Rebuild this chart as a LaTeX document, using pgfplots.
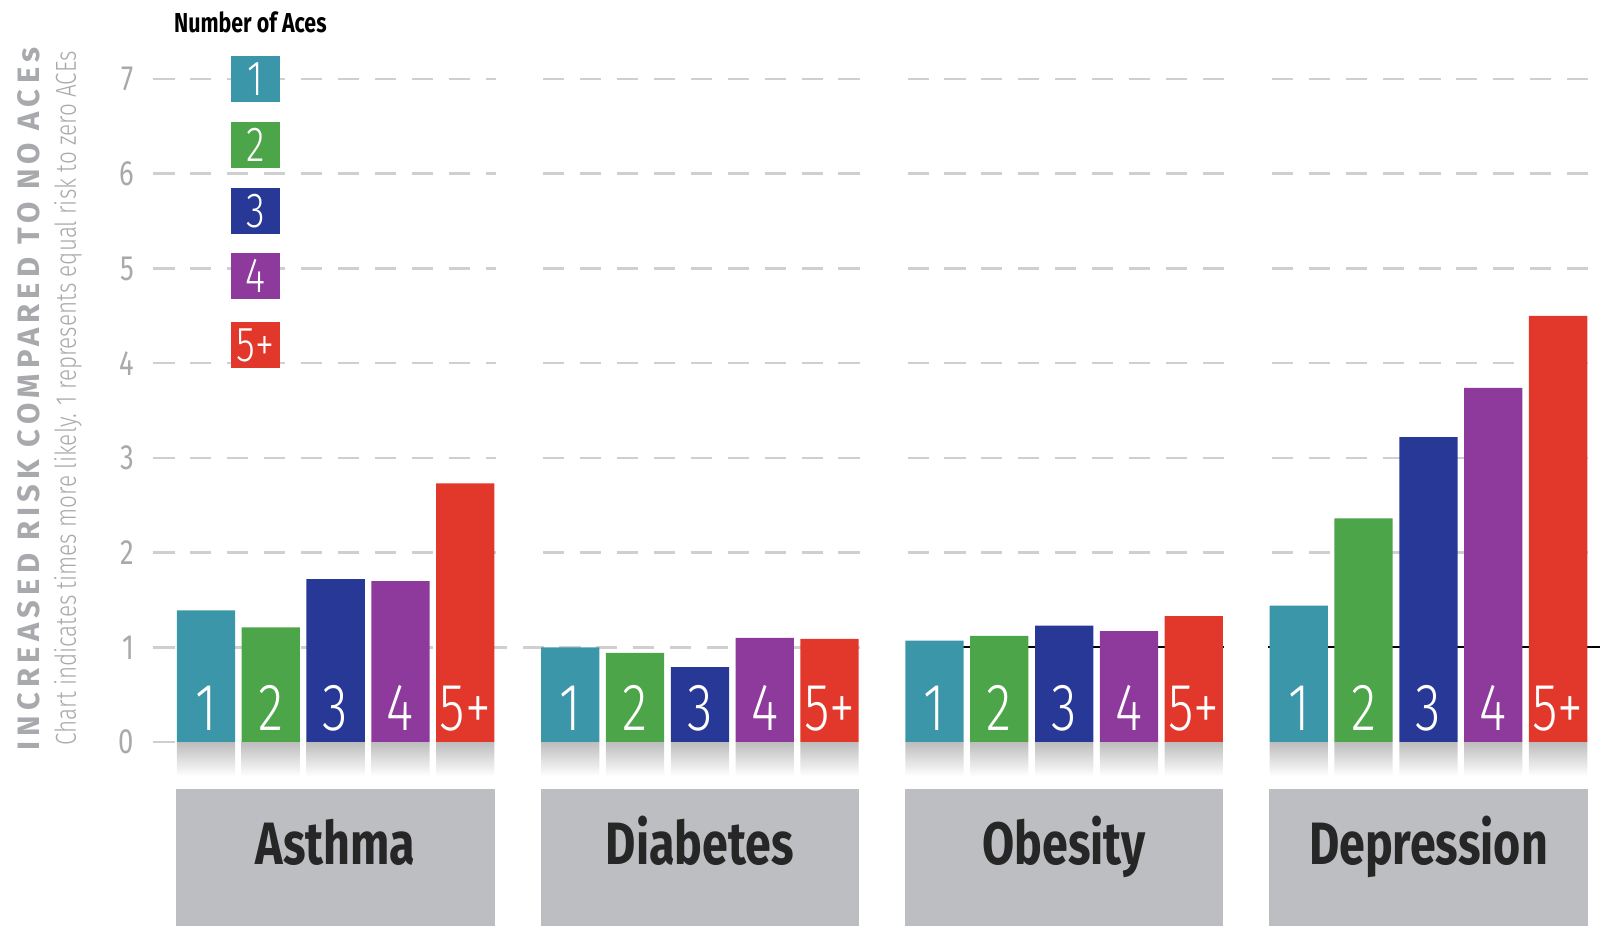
\documentclass[border=0pt]{standalone}
\usepackage{pgfplots}
\usepackage{pgfplotstable}
\pgfplotsset{compat=1.18}
\usepackage{fontspec}
\setmainfont{Fira Sans}
\newfontfamily\cond{Fira Sans}[FakeStretch=0.78]
\newfontfamily\condlt{Fira Sans Light}[FakeStretch=0.78]

\definecolor{aceA}{HTML}{3C96AA}
\definecolor{aceB}{HTML}{4CA548}
\definecolor{aceC}{HTML}{283896}
\definecolor{aceD}{HTML}{8E3A9D}
\definecolor{aceE}{HTML}{E2382C}
\definecolor{boxgray}{HTML}{BDBEC1}
\definecolor{gridgray}{HTML}{CFCFCF}
\definecolor{labgray}{HTML}{A8A9AC}

% groups: 0 Asthma, 1 Diabetes, 2 Obesity, 3 Depression
\pgfplotstableread{
g  one  two  three four five
0  1.39 1.21 1.72  1.70 2.73
1  1.00 0.94 0.79  1.10 1.09
2  1.07 1.12 1.23  1.17 1.33
3  1.44 2.36 3.22  3.74 4.50
}\acedata

\tikzset{grd/.style={gridgray, line width=0.75pt, dash pattern=on 6pt off 4.5pt}}

\begin{document}
\begin{tikzpicture}
\begin{axis}[
  width=14.425cm, height=9.26cm, scale only axis,
  xmin=-0.5, xmax=3.46,
  ymin=-1.943, ymax=7.835,
  clip=false,
  axis line style={draw=none},
  xtick=\empty,
  ytick={0,...,7},
  major tick length=0pt,
  /pgf/number format/assume math mode=true,
  yticklabel style={font=\cond\fontsize{10}{12}\selectfont, text=labgray, xshift=-2pt},
  bar width=0.16,
]
% dashed grid, one run per group
\pgfplotsinvokeforeach{2,...,7}{
  \draw[grd] (axis cs:-0.5,#1) -- (axis cs:0.44,#1);
  \draw[grd] (axis cs:0.57,#1) -- (axis cs:1.44,#1);
  \draw[grd] (axis cs:1.57,#1) -- (axis cs:2.44,#1);
  \draw[grd] (axis cs:2.57,#1) -- (axis cs:3.44,#1);
}
\draw[grd] (axis cs:-0.5,0) -- (axis cs:-0.44,0);
\draw[grd] (axis cs:-0.5,1) -- (axis cs:1.44,1);
\draw[black, line width=0.6pt] (axis cs:1.57,1) -- (axis cs:2.44,1);
\draw[black, line width=0.6pt] (axis cs:2.56,1) -- (axis cs:3.47,1);

% soft reflections under the bars
\pgfplotsset{refl/.style={ybar, bar shift=#1, draw=none, top color=black!26, bottom color=white}}
\addplot[refl=-0.356] table[x=g, y expr=-0.36] {\acedata};
\addplot[refl=-0.178] table[x=g, y expr=-0.36] {\acedata};
\addplot[refl=0]      table[x=g, y expr=-0.36] {\acedata};
\addplot[refl=0.178]  table[x=g, y expr=-0.36] {\acedata};
\addplot[refl=0.356]  table[x=g, y expr=-0.36] {\acedata};

% category boxes
\pgfplotsinvokeforeach{0,1,2,3}{
  \fill[boxgray] (axis cs:#1-0.437,-0.496) rectangle (axis cs:#1+0.437,-1.943);
}
\tikzset{cat/.style={anchor=base, font=\cond\bfseries\fontsize{17}{20}\selectfont, text=black!85}}
\node[cat] at (axis cs:0,-1.298) {Asthma};
\node[cat] at (axis cs:1,-1.298) {Diabetes};
\node[cat] at (axis cs:2,-1.298) {Obesity};
\node[cat] at (axis cs:3,-1.298) {Depression};

\addplot[ybar, bar shift=-0.356, fill=aceA, draw=none] table[x=g, y=one] {\acedata};
\addplot[ybar, bar shift=-0.178, fill=aceB, draw=none] table[x=g, y=two] {\acedata};
\addplot[ybar, bar shift=0,      fill=aceC, draw=none] table[x=g, y=three] {\acedata};
\addplot[ybar, bar shift=0.178,  fill=aceD, draw=none] table[x=g, y=four] {\acedata};
\addplot[ybar, bar shift=0.356,  fill=aceE, draw=none] table[x=g, y=five] {\acedata};

% white count labels at the foot of each bar
\pgfplotsset{barlab/.style={draw=none, mark=none, nodes near coords={#1},
  every node near coord/.append style={anchor=south, inner sep=0pt, yshift=3pt,
    text=white, font=\condlt\fontsize{19}{20}\selectfont}}}
\addplot[barlab=1]  table[x expr=\thisrow{g}-0.356, y expr=0] {\acedata};
\addplot[barlab=2]  table[x expr=\thisrow{g}-0.178, y expr=0] {\acedata};
\addplot[barlab=3]  table[x expr=\thisrow{g},       y expr=0] {\acedata};
\addplot[barlab=4]  table[x expr=\thisrow{g}+0.178, y expr=0] {\acedata};
\addplot[barlab=5+] table[x expr=\thisrow{g}+0.356, y expr=0] {\acedata};

% legend
\node[font=\cond\bfseries\fontsize{7.8}{10}\selectfont] at (axis cs:-0.234,7.6) {Number of Aces};
\tikzset{key/.style={fill=#1, minimum width=0.49cm, minimum height=0.46cm, inner sep=0pt,
        text=white, font=\condlt\fontsize{14}{14}\selectfont}}
\node[key=aceA] at (axis cs:-0.22,7.00) {1};
\node[key=aceB] at (axis cs:-0.22,6.30) {2};
\node[key=aceC] at (axis cs:-0.22,5.61) {3};
\node[key=aceD] at (axis cs:-0.22,4.92) {4};
\node[key=aceE] at (axis cs:-0.22,4.19) {5+};

% axis titles
\node[rotate=90, text=labgray, font=\bfseries\fontsize{8.8}{10}\selectfont\addfontfeatures{LetterSpace=17}]
  at (axis cs:-0.842,3.62) {INCREASED RISK COMPARED TO NO ACEs};
\node[rotate=90, text=labgray, font=\condlt\fontsize{8.2}{9}\selectfont]
  at (axis cs:-0.735,3.63) {Chart indicates times more likely. 1 represents equal risk to zero ACEs};
\end{axis}
\pgfresetboundingbox
\path (-1.535,0) rectangle (14.485,9.26);
\end{tikzpicture}
\end{document}
